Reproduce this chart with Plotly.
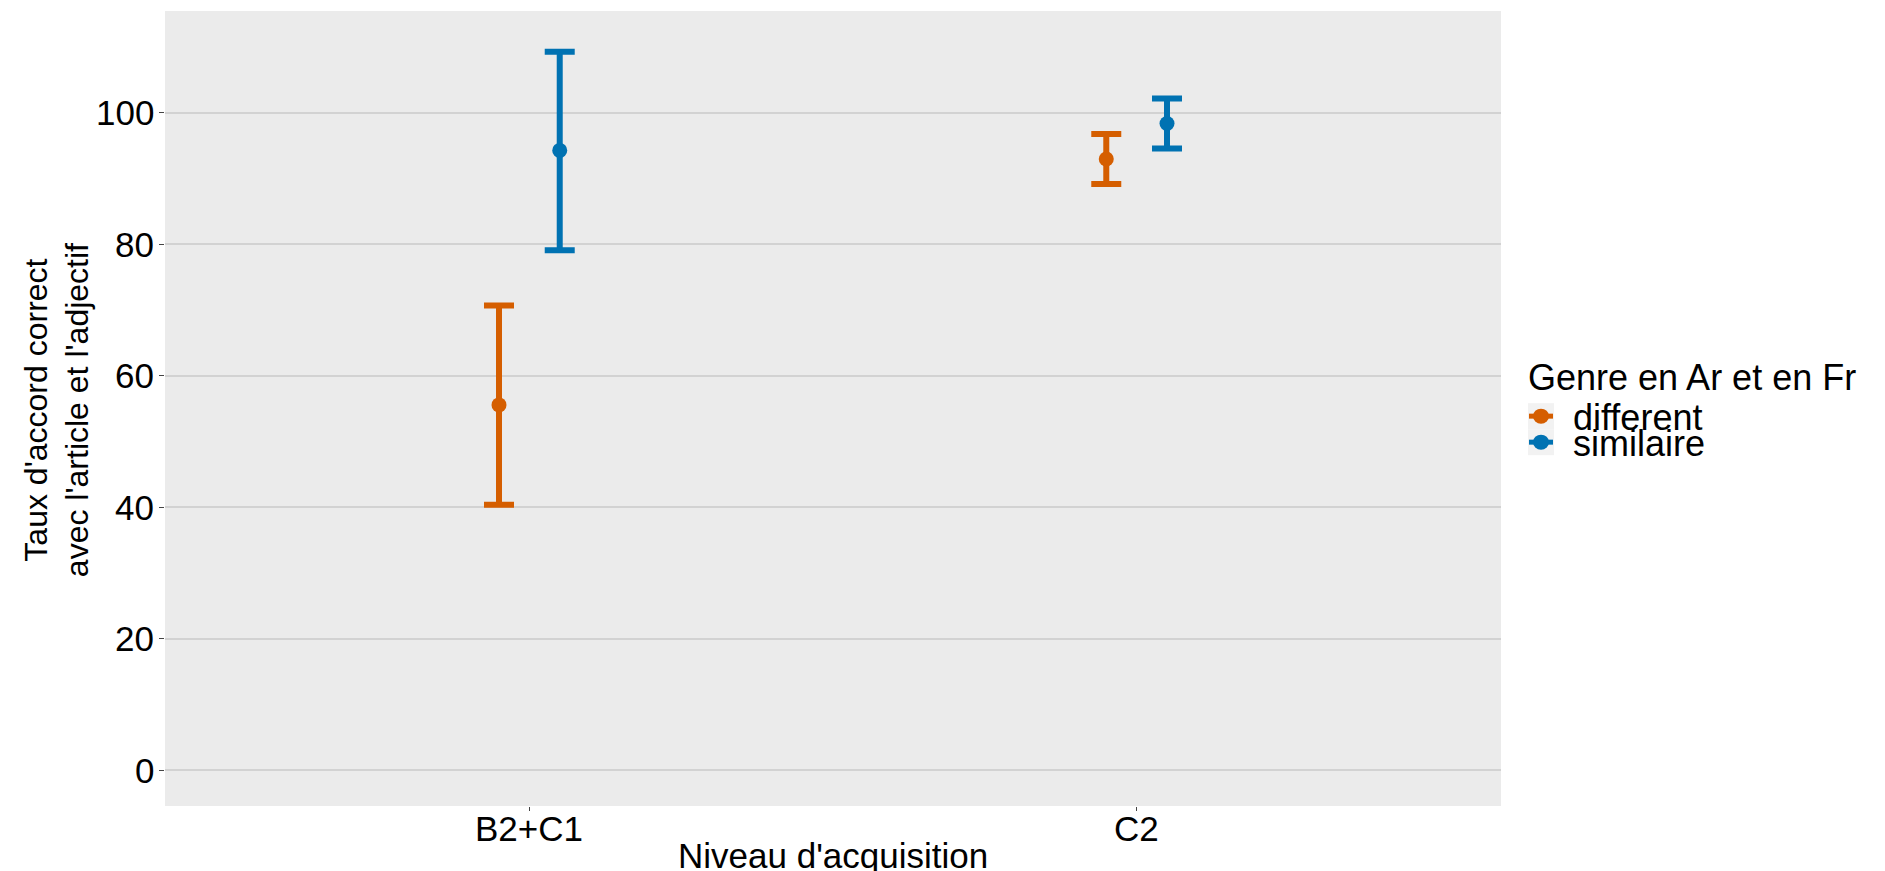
import plotly.graph_objects as go

# ---- data ----
levels = ["B2+C1", "C2"]
groups = ["different", "similaire"]
colors = ["#D55E00", "#0072B2"]
means = {"different": [55.6, 93.0], "similaire": [94.3, 98.4]}
lower = {"different": [40.4, 89.2], "similaire": [79.1, 94.6]}
upper = {"different": [70.7, 96.8], "similaire": [109.3, 102.2]}
y_ticks = [0, 20, 40, 60, 80, 100]
x_title = "Niveau d'acquisition"
y_title_lines = ["Taux d'accord correct", "avec l'article et l'adjectif"]
legend_title = "Genre en Ar et en Fr"

FONT = "Liberation Sans, Arial, sans-serif"
OFF = 8  # page body margin of the browser
W_FIG, H_FIG = 1885 - OFF, 871 - OFF
# plot area in window pixels
L, R, T, B = 165 - OFF, 1501 - OFF, 11 - OFF, 805.7 - OFF
PW, PH = R - L, B - T


def px(x):
    """window x pixel -> paper"""
    return (x - OFF - L) / PW


def py(y):
    """window y pixel -> paper"""
    return (B - (y - OFF)) / PH


dodge = [-0.05, 0.05]

fig = go.Figure()
for gi, g in enumerate(groups):
    xs = [i + dodge[gi] for i in range(len(levels))]
    m = means[g]
    fig.add_trace(go.Scatter(
        x=xs, y=m, mode="markers", name=g, showlegend=False,
        marker=dict(color=colors[gi], size=15, line=dict(width=0)),
        error_y=dict(type="data", symmetric=False,
                     array=[u - v for u, v in zip(upper[g], m)],
                     arrayminus=[v - lo for v, lo in zip(m, lower[g])],
                     color=colors[gi], thickness=6, width=15),
    ))

shapes = []
annotations = []

# y tick labels
for v in y_ticks:
    annotations.append(dict(xref="paper", yref="y", x=px(156), y=v,
                            xanchor="right", yanchor="middle", showarrow=False,
                            text=str(v), font=dict(family=FONT, size=35, color="black")))
# x tick labels
for i, lev in enumerate(levels):
    annotations.append(dict(xref="x", yref="paper", x=i, y=py(828),
                            xanchor="center", yanchor="middle", showarrow=False,
                            text=lev, font=dict(family=FONT, size=35, color="black")))

# legend (manual)
annotations.append(dict(xref="paper", yref="paper", x=px(1526), y=py(377),
                        xanchor="left", yanchor="middle", showarrow=False,
                        text=legend_title, font=dict(family=FONT, size=36, color="black")))
key_tops = [403, 429]
for gi, g in enumerate(groups):
    t = key_tops[gi]
    cy = t + 13
    shapes.append(dict(type="rect", xref="paper", yref="paper",
                       x0=px(1528), x1=px(1554), y0=py(t + 26), y1=py(t),
                       fillcolor="#F2F2F2", line=dict(width=0)))
    shapes.append(dict(type="line", xref="paper", yref="paper",
                       x0=px(1529), x1=px(1553), y0=py(cy), y1=py(cy),
                       line=dict(color=colors[gi], width=5)))
    shapes.append(dict(type="circle", xref="paper", yref="paper",
                       x0=px(1541 - 8), x1=px(1541 + 8),
                       y0=py(cy + 7.5), y1=py(cy - 7.5),
                       fillcolor=colors[gi], line=dict(width=0)))
    annotations.append(dict(xref="paper", yref="paper", x=px(1571), y=py(cy + 1),
                            xanchor="left", yanchor="middle", showarrow=False,
                            text=g, font=dict(family=FONT, size=36, color="black")))

# axis titles
annotations.append(dict(xref="paper", yref="paper", x=px(833), y=py(855),
                        xanchor="center", yanchor="middle", showarrow=False,
                        text=x_title, font=dict(family=FONT, size=35, color="black")))
annotations.append(dict(xref="paper", yref="paper", x=px(57), y=py(410),
                        xanchor="center", yanchor="middle", showarrow=False,
                        textangle=-90, align="center",
                        text="<br>".join(y_title_lines),
                        font=dict(family=FONT, size=32, color="black")))

fig.update_layout(
    width=W_FIG, height=H_FIG,
    margin=dict(l=L, r=W_FIG - R, t=T, b=H_FIG - B, pad=0),
    paper_bgcolor="white", plot_bgcolor="#EBEBEB",
    showlegend=False,
    shapes=shapes, annotations=annotations,
    font=dict(family=FONT, color="black"),
)
fig.update_xaxes(
    range=[-0.6, 1.6], tickmode="array", tickvals=list(range(len(levels))),
    showticklabels=False, showgrid=False, zeroline=False,
    ticks="outside", ticklen=4, tickcolor="#444444", tickwidth=1,
)
fig.update_yaxes(
    range=[-5.4, 115.5], tickmode="array", tickvals=y_ticks,
    showticklabels=False,
    showgrid=True, gridcolor="#D2D2D2", gridwidth=1.5, zeroline=False,
    ticks="outside", ticklen=5, tickcolor="#444444", tickwidth=1,
)

fig.write_html("out.html")
